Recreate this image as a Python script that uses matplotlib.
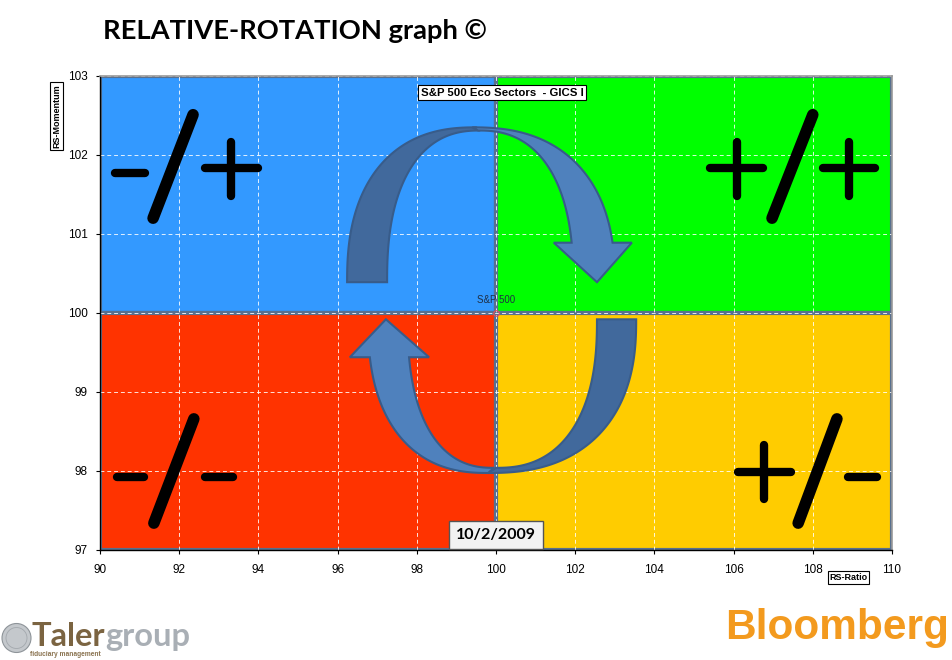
import numpy as np
import matplotlib.pyplot as plt
from matplotlib.patches import Rectangle, Polygon, Ellipse

# axis ranges and ticks
x_ticks = [90, 92, 94, 96, 98, 100, 102, 104, 106, 108, 110]
y_ticks = [97, 98, 99, 100, 101, 102, 103]
center = (100, 100)

# quadrants: lower-left corner and colour
quad_x0 = [90, 100, 90, 100]
quad_y0 = [100, 100, 97, 97]
quad_colors = ["#3399FF", "#00FF00", "#FF3300", "#FFCC00"]

benchmark = "S&P 500"
universe = "S&P 500 Eco Sectors  - GICS I"
date_label = "10/2/2009"

W, H = 952, 660


def fx(px):
    return px / W


def fy(py):
    return 1 - py / H


def arc(cx, cy, a, b, t0, t1, n=2.4, num=90):
    t = np.linspace(t0, t1, num)
    c, s = np.cos(t), np.sin(t)
    e = 2.0 / n
    x = cx + a * np.sign(c) * np.abs(c) ** e
    y = cy + b * np.sign(s) * np.abs(s) ** e
    return np.column_stack([x, y])


def t_at(dy, b, n=2.4):
    # angle where the superellipse reaches height dy above/below its centre
    return np.arcsin((dy / b) ** (n / 2.0))


def main():
    fig = plt.figure(figsize=(W / 100, H / 100), dpi=100)
    ax = fig.add_axes([fx(100), fy(550), 792 / W, 474 / H])
    ax.set_xlim(90, 110)
    ax.set_ylim(97, 103)

    # quadrant backgrounds
    for x0, y0, c in zip(quad_x0, quad_y0, quad_colors):
        ax.add_patch(Rectangle((x0, y0), 10, 3, facecolor=c,
                               edgecolor="#58708F", lw=3, zorder=1))

    ax.set_xticks(x_ticks)
    ax.set_yticks(y_ticks)
    ax.set_axisbelow("line")
    ax.grid(True, color="white", ls=(0, (4, 3)), lw=0.7, alpha=0.85)
    ax.tick_params(length=3, width=0.8, pad=6, labelsize=8.5, colors="black")
    for lab in ax.get_xticklabels() + ax.get_yticklabels():
        lab.set_family("Liberation Sans")
    ax.tick_params(axis="x", pad=7)
    for s in ["left", "bottom"]:
        ax.spines[s].set_color("black")
        ax.spines[s].set_linewidth(1.0)
    for s in ["top", "right"]:
        ax.spines[s].set_color("#9A9A9A")
        ax.spines[s].set_linewidth(1.2)

    dark, light, edge = "#41699C", "#4F81BD", "#385C8A"

    # upper arrow: from improving over the top into leading
    cy = 100.39
    outer = arc(99.5, cy, 3.26, 1.96, np.pi, np.pi / 2)
    inner = arc(99.6, cy, 2.35, 1.92, np.pi / 2, np.pi)
    ax.add_patch(Polygon(np.vstack([outer, inner]), closed=True,
                         facecolor=dark, edgecolor=edge, lw=1.5, zorder=3))
    hy = 100.89
    up = arc(99.4, cy, 3.6, 1.96, np.pi / 2, t_at(hy - cy, 1.96))
    lo = arc(99.55, cy, 2.4, 1.92, t_at(hy - cy, 1.92), np.pi / 2)
    head = np.array([[103.43, hy], [102.55, cy], [101.46, hy]])
    ax.add_patch(Polygon(np.vstack([up, head, lo]), closed=True,
                         facecolor=light, edgecolor=edge, lw=1.5, zorder=3))

    # lower arrow: from weakening down through lagging
    cy = 99.92
    outer = arc(99.8, cy, 3.74, 1.945, 0, -np.pi / 2)
    inner = arc(100.0, cy, 2.55, 1.88, -np.pi / 2, 0)
    ax.add_patch(Polygon(np.vstack([outer, inner]), closed=True,
                         facecolor=dark, edgecolor=edge, lw=1.5, zorder=3))
    hy = 99.44
    lo = arc(99.8, cy, 3.03, 1.945, -np.pi / 2, -np.pi + t_at(cy - hy, 1.945))
    up = arc(99.95, cy, 2.18, 1.88, -np.pi + t_at(cy - hy, 1.88), -np.pi / 2)
    head = np.array([[96.31, hy], [97.22, cy], [98.31, hy]])
    ax.add_patch(Polygon(np.vstack([lo, head, up]), closed=True,
                         facecolor=light, edgecolor=edge, lw=1.5, zorder=3))

    # quadrant signs drawn as thick strokes
    minus_lw, slash_lw = 6.0, 8.3
    strokes = [
        # -/+
        ((90.38, 101.77), (91.14, 101.77), minus_lw),
        ((91.34, 101.20), (92.35, 102.51), slash_lw),
        ((92.65, 101.84), (93.99, 101.84), minus_lw),
        ((93.31, 102.17), (93.31, 101.48), minus_lw),
        # +/+
        ((105.40, 101.84), (106.74, 101.84), minus_lw),
        ((106.09, 102.17), (106.09, 101.48), minus_lw),
        ((106.97, 101.20), (108.00, 102.51), slash_lw),
        ((108.26, 101.84), (109.57, 101.84), minus_lw),
        ((108.91, 102.17), (108.91, 101.48), minus_lw),
        # -/-
        ((90.43, 97.92), (91.11, 97.92), minus_lw),
        ((91.36, 97.34), (92.37, 98.66), slash_lw),
        ((92.65, 97.92), (93.36, 97.92), minus_lw),
        # +/-
        ((106.11, 97.99), (107.45, 97.99), minus_lw),
        ((106.77, 98.33), (106.77, 97.64), minus_lw),
        ((107.63, 97.34), (108.61, 98.66), slash_lw),
        ((108.89, 97.92), (109.62, 97.92), minus_lw),
    ]
    for (x0, y0), (x1, y1), lw in strokes:
        ax.plot([x0, x1], [y0, y1], color="black", lw=lw,
                solid_capstyle="round", zorder=4)

    # benchmark at the centre
    ax.plot(*center, marker="o", ms=4, mfc="none", mec="#E05060",
            mew=0.8, zorder=5, clip_on=False)
    ax.annotate(benchmark, center, xytext=(0, 9.5), textcoords="offset points",
                ha="center", va="center", fontsize=7, color="#1F2F45",
                family="Liberation Sans", zorder=5)

    # boxed labels
    fig.text(fx(502), fy(92.5), universe, ha="center", va="center",
             fontsize=8.2, fontweight="bold", family="Liberation Sans",
             bbox=dict(boxstyle="square,pad=0.25", fc="white", ec="black", lw=0.8))
    fig.text(fx(496), fy(535), date_label, ha="center", va="center",
             fontsize=11.5, fontweight="bold", family="Lato",
             bbox=dict(boxstyle="square,pad=0.45", fc="#F2F2F2", ec="#555555", lw=1))
    fig.text(fx(56.5), fy(116), "RS-Momentum", rotation=90, ha="center",
             va="center", fontsize=6.5, fontweight="bold", family="Liberation Sans",
             bbox=dict(boxstyle="square,pad=0.2", fc="white", ec="black", lw=0.8))
    fig.text(fx(848.5), fy(577.5), "RS-Ratio", ha="center", va="center",
             fontsize=6.5, fontweight="bold", family="Liberation Sans",
             bbox=dict(boxstyle="square,pad=0.2", fc="white", ec="black", lw=0.8))

    # title
    fig.text(fx(103), fy(39), "RELATIVE-ROTATION graph \u00a9", ha="left",
             va="baseline", fontsize=19.7, fontweight="bold", family="Lato")

    # footer logos
    fig.add_artist(Ellipse((fx(16.5), fy(638)), 29 / W, 29 / H,
                           transform=fig.transFigure,
                           fc="#C4C8CC", ec="#8E9499", lw=0.8))
    fig.add_artist(Ellipse((fx(16.5), fy(638)), 21 / W, 21 / H,
                           transform=fig.transFigure,
                           fc="none", ec="#A3A8AD", lw=0.6))
    t1 = fig.text(fx(32), fy(646), "Taler", ha="left", va="baseline",
                  fontsize=23.5, fontweight="bold", family="Lato", color="#7B6441")
    fig.canvas.draw()
    bb = t1.get_window_extent()
    fig.text(bb.x1 / W, fy(646), "group", ha="left", va="baseline",
             fontsize=23.5, fontweight="bold", family="Lato", color="#A9AFB5")
    fig.text(fx(30), fy(656), "fiduciary management", ha="left", va="baseline",
             fontsize=4.8, fontweight="bold", family="Liberation Sans", color="#8A7350")
    fig.text(fx(725), fy(639), "Bloomberg", ha="left", va="baseline",
             fontsize=30.5, fontweight="bold", family="Liberation Sans", color="#F39A1E")

    fig.savefig("out.png", dpi=100)


if __name__ == "__main__":
    main()
